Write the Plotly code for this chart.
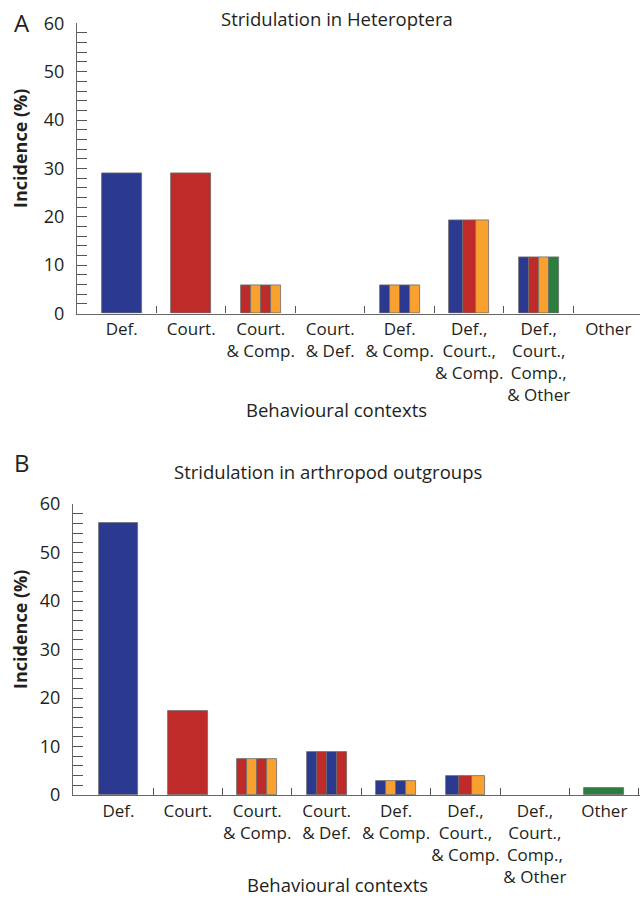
import plotly.graph_objects as go

# ---------------- data ----------------
categories = ["Def.", "Court.", "Court.<br>& Comp.", "Court.<br>& Def.", "Def.<br>& Comp.",
              "Def.,<br>Court.,<br>& Comp.", "Def.,<br>Court.,<br>Comp.,<br>& Other", "Other"]
heteroptera = [29.0, 29.0, 5.8, 0.0, 5.8, 19.2, 11.7, 0.0]
outgroups = [56.0, 17.3, 7.4, 8.9, 2.8, 3.9, 0.0, 1.4]
# stripe composition of each bar (behaviour names)
patterns = [
    ["Def"], ["Court"], ["Court", "Comp", "Court", "Comp"], ["Def", "Court", "Def", "Court"],
    ["Def", "Comp", "Def", "Comp"], ["Def", "Court", "Comp"], ["Def", "Court", "Comp", "Other"], ["Other"],
]
y_ticks = [0, 10, 20, 30, 40, 50, 60]

# ---------------- styles ----------------
COL = {"Def": "#2B3990", "Court": "#BE2B29", "Comp": "#F8A12F", "Other": "#2A7F3F"}
FONT = "Open Sans, Lato, sans-serif"
TXT = "#231F20"
BAR_W = 0.575
W, H = 640, 898

fig = go.Figure()

def add_panel(values, xa, ya):
    xs = list(range(len(categories)))
    for k in range(4):
        ys, widths, offs, cols = [], [], [], []
        for i, v in enumerate(values):
            n = len(patterns[i])
            sw = BAR_W / n
            if k < n and v > 0:
                ys.append(v)
                cols.append(COL[patterns[i][k]])
            else:
                ys.append(None)
                cols.append("rgba(0,0,0,0)")
            widths.append(sw)
            offs.append(-BAR_W / 2 + k * sw)
        fig.add_trace(go.Bar(
            x=xs, y=ys, width=widths, offset=offs,
            marker=dict(color=cols, line=dict(color="#6d6d6d", width=0.8)),
            xaxis=xa, yaxis=ya, showlegend=False, hoverinfo="y",
        ))

add_panel(heteroptera, "x", "y")
add_panel(outgroups, "x2", "y2")

def px_y(p):
    return 1 - p / H

xaxis_common = dict(
    tickmode="array", tickvals=list(range(len(categories))), ticktext=categories,
    ticks="", showline=True, linecolor="#666666", linewidth=1.2, tickangle=0,
    showgrid=False, zeroline=False, automargin=False,
    tickfont=dict(family=FONT, size=17, color=TXT),
    minor=dict(tickmode="array", tickvals=[i + 0.5 for i in range(len(categories))],
               ticks="inside", ticklen=7, tickcolor="#555555", tickwidth=1),
    fixedrange=True,
)
yaxis_common = dict(
    range=[0, 60], tickmode="array", tickvals=y_ticks, ticks="inside", ticklen=10,
    tickcolor="#555555", tickwidth=1, showline=True, linecolor="#666666", linewidth=1.2,
    showgrid=False, zeroline=False, ticklabelstandoff=8, automargin=False,
    tickfont=dict(family=FONT, size=18, color=TXT),
    minor=dict(dtick=2, ticks="inside", ticklen=10, tickcolor="#555555", tickwidth=1),
    fixedrange=True,
)

fig.update_layout(
    width=W, height=H,
    margin=dict(l=0, r=0, t=0, b=0, autoexpand=False),
    paper_bgcolor="white", plot_bgcolor="white",
    barmode="overlay", bargap=0,
    xaxis=dict(xaxis_common, domain=[77 / W, 1], range=[-0.643, 7.457], anchor="y"),
    yaxis=dict(yaxis_common, domain=[px_y(313.5), px_y(23.3)], anchor="x"),
    xaxis2=dict(xaxis_common, domain=[73 / W, 1], range=[-0.655, 7.515], anchor="y2"),
    yaxis2=dict(yaxis_common, domain=[px_y(795), px_y(504)], anchor="x2"),
    font=dict(family=FONT, color=TXT),
)

ann = [
    dict(text="A", x=22 / W, y=px_y(23), size=24, angle=0),
    dict(text="B", x=22 / W, y=px_y(463), size=24, angle=0),
    dict(text="Stridulation in Heteroptera", x=337 / W, y=px_y(19), size=18.5, angle=0),
    dict(text="Stridulation in arthropod outgroups", x=328 / W, y=px_y(471), size=18.5, angle=0),
    dict(text="<b>Incidence (%)</b>", x=20 / W, y=px_y(149), size=18, angle=-90),
    dict(text="<b>Incidence (%)</b>", x=20 / W, y=px_y(630), size=18, angle=-90),
    dict(text="Behavioural contexts", x=336 / W, y=px_y(409), size=18.5, angle=0),
    dict(text="Behavioural contexts", x=337 / W, y=px_y(884), size=18.5, angle=0),
]
for a in ann:
    fig.add_annotation(
        text=a["text"], x=a["x"], y=a["y"], xref="paper", yref="paper",
        xanchor="center", yanchor="middle", showarrow=False, textangle=a["angle"],
        font=dict(family=FONT, size=a["size"], color=TXT),
    )

fig.write_html(
    "out.html",
    config={"displayModeBar": False},
    post_script="document.body.style.margin='0';document.body.style.overflow='hidden';",
)
